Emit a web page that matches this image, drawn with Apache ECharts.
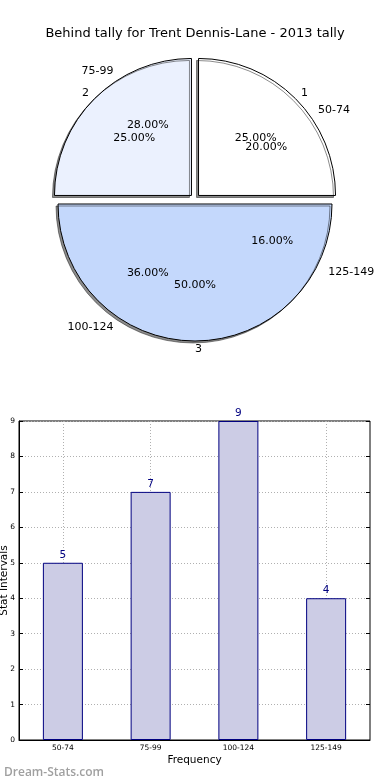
<!DOCTYPE html>
<html>
<head>
<meta charset="utf-8">
<script src="https://cdn.jsdelivr.net/npm/echarts@6/dist/echarts.min.js"></script>
<style>
html,body{margin:0;padding:0;background:#fff;}
#c{width:390px;height:780px;}
</style>
</head>
<body>
<div id="c"></div>
<script>
// ---- data ----
const chartTitle = 'Behind tally for Trent Dennis-Lane - 2013 tally';
const groupNames = ['1', '2', '3'];
const groupValues = [25, 25, 50];
const intervalNames = ['50-74', '75-99', '100-124', '125-149'];
const intervalCounts = [5, 7, 9, 4];
const yTicks = [0, 1, 2, 3, 4, 5, 6, 7, 8, 9];
const watermark = 'Dream-Stats.com';

const FONT = 'DejaVu Sans';
const groupColors = ['#ffffff', '#ebf1fe', '#c4d8fc'];
const CX = 195, CY = 199, R = 137;
const clear = 'rgba(0,0,0,0)';
const pctFmt = p => p.percent.toFixed(2) + '%';

const chart = echarts.init(document.getElementById('c'), null, {renderer: 'canvas'});

const baseTransparent = {
  type: 'pie', center: [CX, CY], startAngle: 0, clockwise: false,
  avoidLabelOverlap: false, silent: true, animation: false,
  emphasis: {disabled: true},
  labelLayout: {hideOverlap: false},
  itemStyle: {color: clear, borderWidth: 0},
  labelLine: {show: false}
};

chart.setOption({
  animation: false,
  textStyle: {fontFamily: FONT},
  title: [
    {text: chartTitle, left: 'center', top: 22,
     textStyle: {fontFamily: FONT, fontSize: 13, fontWeight: 'normal', color: '#000'}},
    {text: watermark, left: -1, top: 762,
     textStyle: {fontFamily: 'Open Sans', fontSize: 12, fontWeight: 600, color: '#a0a0a0'}}
  ],
  grid: {left: 19, right: 20, top: 421, bottom: 40, show: true, borderColor: '#000', borderWidth: 1,
         backgroundColor: clear, outerBoundsMode: 'none', containLabel: false},
  xAxis: [{
    type: 'category', data: intervalNames,
    name: 'Frequency', nameLocation: 'middle', nameGap: 15, nameMoveOverlap: false,
    nameTextStyle: {fontFamily: FONT, fontSize: 10.5, color: '#000'},
    axisLine: {lineStyle: {color: '#000'}},
    axisTick: {show: true, inside: true, alignWithLabel: true, length: 4, lineStyle: {color: '#000'}},
    axisLabel: {fontFamily: FONT, fontSize: 7.5, color: '#000', margin: 4},
    splitLine: {show: true, alignWithLabel: true, lineStyle: {color: '#b0b0b0', type: [1, 2]}}
  }],
  yAxis: [{
    type: 'value', min: 0, max: 9, interval: 1,
    name: 'Stat Intervals', nameLocation: 'middle', nameGap: 9, nameMoveOverlap: false,
    nameTextStyle: {fontFamily: FONT, fontSize: 10.5, color: '#000'},
    axisLine: {show: true, lineStyle: {color: '#000'}},
    axisTick: {show: true, inside: true, length: 4, lineStyle: {color: '#000'}},
    axisLabel: {fontFamily: FONT, fontSize: 7.5, color: '#000', margin: 4,
                formatter: v => yTicks.indexOf(v) >= 0 ? String(v) : ''},
    splitLine: {show: true, lineStyle: {color: '#b0b0b0', type: [1, 2]}}
  }, {
    type: 'value', min: 0, max: 9, interval: 1, position: 'right',
    axisLine: {show: false},
    axisTick: {show: true, inside: true, length: 4, lineStyle: {color: '#000'}},
    axisLabel: {show: false}, splitLine: {show: false}
  }],
  series: [
    // visible outer wedges with group names outside
    {
      type: 'pie', center: [CX, CY], radius: [0, R], startAngle: 0, clockwise: false,
      avoidLabelOverlap: false, silent: true, animation: false,
      labelLayout: {hideOverlap: false},
      selectedMode: 'multiple', selectedOffset: 5,
      emphasis: {disabled: true},
      itemStyle: {borderColor: '#000', borderWidth: 1,
                  shadowColor: 'rgba(0,0,0,0.45)', shadowBlur: 0, shadowOffsetX: -2, shadowOffsetY: 2},
      label: {show: true, position: 'outside', fontFamily: FONT, fontSize: 11, color: '#000',
               distanceToLabelLine: 0, formatter: p => p.name},
      labelLine: {show: false, length: 8, length2: 0},
      data: groupNames.map((n, i) => ({name: n, value: groupValues[i], selected: true,
                                       itemStyle: {color: groupColors[i]}}))
    },
    // group percentages
    Object.assign({}, baseTransparent, {
      radius: [68, 98],
      label: {show: true, position: 'inside', fontFamily: FONT, fontSize: 11, color: '#000', formatter: pctFmt},
      data: groupNames.map((n, i) => ({name: n, value: groupValues[i]}))
    }),
    // interval names
    Object.assign({}, baseTransparent, {
      radius: [0, R],
      label: {show: true, position: 'outside', fontFamily: FONT, fontSize: 11, color: '#000',
               distanceToLabelLine: 0, formatter: p => p.name},
      labelLine: {show: false, length: 15, length2: 0},
      data: intervalNames.map((n, i) => ({name: n, value: intervalCounts[i]}))
    }),
    // interval percentages
    Object.assign({}, baseTransparent, {
      radius: [70, 100],
      label: {show: true, position: 'inside', fontFamily: FONT, fontSize: 11, color: '#000', formatter: pctFmt},
      data: intervalNames.map((n, i) => ({name: n, value: intervalCounts[i]}))
    }),
    // bars
    {
      type: 'bar', xAxisIndex: 0, yAxisIndex: 0, barWidth: 40,
      data: intervalCounts,
      itemStyle: {color: '#ccccE5', borderColor: '#000080', borderWidth: 1},
      label: {show: true, position: 'top', distance: 2, fontFamily: FONT, fontSize: 10.5, color: '#000080'},
      emphasis: {disabled: true}, silent: true
    }
  ]
});
</script>
</body>
</html>
